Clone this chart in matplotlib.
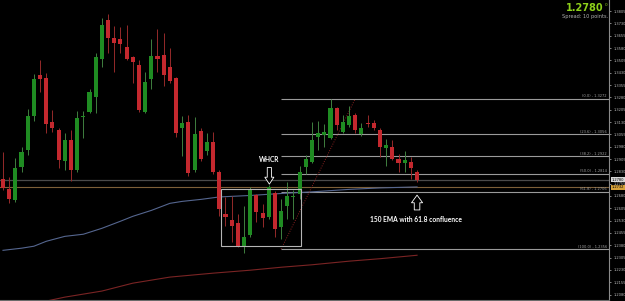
import matplotlib
matplotlib.use('Agg')
import matplotlib.pyplot as plt
from matplotlib.patches import Rectangle

# ---- data ----
opens = [1.2786, 1.2720, 1.2653, 1.2859, 1.2962, 1.3169, 1.3418, 1.3400, 1.3132, 1.3084,
         1.2890, 1.3023, 1.2835, 1.3163, 1.3193, 1.3284, 1.3515, 1.3752, 1.3642, 1.3636,
         1.3588, 1.3527, 1.3478, 1.3193, 1.3393, 1.3533, 1.3539, 1.3466, 1.3400, 1.3096,
         1.3132, 1.2835, 1.3078, 1.2956, 1.3011, 1.2823, 1.2568, 1.2532, 1.2513, 1.2374,
         1.2440, 1.2683, 1.2574, 1.2550, 1.2695, 1.2489, 1.2617, 1.2671, 1.2689, 1.2859,
         1.2884, 1.3041, 1.3054, 1.3035, 1.3217, 1.3072, 1.3114, 1.3175, 1.3060, 1.3126,
         1.3126, 1.3084, 1.2975, 1.2981, 1.2908, 1.2878, 1.2884, 1.2823]
highs = [1.2950, 1.2793, 1.2914, 1.2981, 1.3211, 1.3424, 1.3509, 1.3430, 1.3205, 1.3096,
         1.3066, 1.3084, 1.3199, 1.3199, 1.3333, 1.3551, 1.3764, 1.3788, 1.3715, 1.3709,
         1.3721, 1.3533, 1.3509, 1.3436, 1.3636, 1.3697, 1.3673, 1.3582, 1.3406, 1.3169,
         1.3175, 1.3163, 1.3096, 1.3066, 1.3072, 1.2841, 1.2671, 1.2677, 1.2568, 1.2617,
         1.2732, 1.2689, 1.2629, 1.2744, 1.2708, 1.2659, 1.2768, 1.2714, 1.2865, 1.2932,
         1.3132, 1.3139, 1.3120, 1.3272, 1.3224, 1.3175, 1.3230, 1.3187, 1.3126, 1.3175,
         1.3145, 1.3096, 1.3029, 1.3023, 1.2938, 1.2956, 1.2920, 1.2841]
lows = [1.2714, 1.2635, 1.2641, 1.2823, 1.2932, 1.3139, 1.3315, 1.3066, 1.3072, 1.2853,
        1.2835, 1.2774, 1.2823, 1.3035, 1.3187, 1.3187, 1.3466, 1.3551, 1.3436, 1.3551,
        1.3509, 1.3369, 1.3193, 1.3187, 1.3333, 1.3436, 1.3351, 1.3369, 1.3041, 1.2926,
        1.2799, 1.2823, 1.2890, 1.2932, 1.2811, 1.2556, 1.2495, 1.2398, 1.2368, 1.2330,
        1.2428, 1.2519, 1.2489, 1.2538, 1.2428, 1.2416, 1.2538, 1.2538, 1.2659, 1.2811,
        1.2878, 1.2962, 1.2981, 1.3029, 1.3084, 1.3066, 1.3102, 1.3066, 1.3047, 1.3102,
        1.3084, 1.2920, 1.2865, 1.2896, 1.2823, 1.2823, 1.2786, 1.2762]
closes = [1.2726, 1.2659, 1.2853, 1.2950, 1.3169, 1.3393, 1.3393, 1.3120, 1.3096, 1.2896,
          1.3023, 1.2841, 1.3157, 1.3169, 1.3315, 1.3527, 1.3721, 1.3642, 1.3612, 1.3606,
          1.3515, 1.3497, 1.3205, 1.3375, 1.3533, 1.3515, 1.3418, 1.3381, 1.3066, 1.3126,
          1.2817, 1.3060, 1.2908, 1.3011, 1.2823, 1.2598, 1.2550, 1.2495, 1.2374, 1.2428,
          1.2720, 1.2580, 1.2544, 1.2732, 1.2477, 1.2586, 1.2677, 1.2677, 1.2823, 1.2908,
          1.3023, 1.3066, 1.3072, 1.3217, 1.3114, 1.3132, 1.3169, 1.3084, 1.3096, 1.3120,
          1.3096, 1.2981, 1.2993, 1.2908, 1.2878, 1.2896, 1.2853, 1.2780]

ema150_idx = [0, 3, 5, 7, 10, 13, 16, 19, 21, 24, 27, 29, 32, 35, 40, 45, 50, 56, 61, 67]
ema150_val = [1.2349, 1.2362, 1.2374, 1.2404, 1.2434, 1.2447, 1.2483, 1.2526, 1.2556, 1.2592,
              1.2635, 1.2647, 1.2659, 1.2674, 1.2683, 1.2695, 1.2705, 1.2720, 1.2729, 1.2735]
ema_slow_idx = [7, 10, 16, 21, 27, 34, 40, 45, 50, 56, 61, 67]
ema_slow_val = [1.2040, 1.2064, 1.2101, 1.2149, 1.2186, 1.2210, 1.2228, 1.2246, 1.2261,
                1.2283, 1.2298, 1.2319]

fib_pcts = ["0.0", "23.6", "38.2", "50.0", "61.8", "100.0"]
fib_levels = [1.3272, 1.3056, 1.2922, 1.2814, 1.2706, 1.2356]

axis_ticks = [1.3805, 1.3730, 1.3655, 1.3580, 1.3505, 1.3430, 1.3355, 1.3280, 1.3205,
              1.3130, 1.3055, 1.2980, 1.2905, 1.2830, 1.2755, 1.2680, 1.2605, 1.2530,
              1.2455, 1.2380, 1.2305, 1.2230, 1.2155, 1.2080]

bid_price = 1.2780
hline_price = 1.2732

GREEN = '#1f8c22'
RED = '#c4282e'
GREEN_W = '#3f7f3f'
RED_W = '#952a2a'

fig = plt.figure(figsize=(6.25, 3.01), dpi=100, facecolor='black')
ax = fig.add_axes([0, 0.003, 609 / 625, 0.997])
ax.set_facecolor('black')
ax.set_xlim(-0.485, 98.06)
ax.set_ylim(1.2046, 1.3873)

# horizontal bid / user lines
ax.axhline(bid_price, color='#4a4a4a', lw=0.9, zorder=1)
ax.axhline(hline_price, color='#7d5f38', lw=0.8, zorder=1)

# EMAs
ax.plot(ema150_idx, ema150_val, color='#55668f', lw=0.8, zorder=2)
ax.plot(ema_slow_idx, ema_slow_val, color='#7a2424', lw=0.8, zorder=2)

# fib
xmax = ax.get_xlim()[1]
ax.hlines(fib_levels, 45, xmax, color='#9a9a9a', lw=0.8, zorder=1)
for p, lv in zip(fib_pcts, fib_levels):
    ax.text(97.7, lv + 0.0004, f"({p}) - {lv:.4f}", ha='right', va='bottom',
            fontsize=2.6, color='#a0a0a0')
ax.plot([45, 57], [fib_levels[-1], fib_levels[0]], color='#8a2222', lw=0.7,
        ls=(0, (1, 1.5)), zorder=2)

# candles
for i, (o, h, l, c) in enumerate(zip(opens, highs, lows, closes)):
    up = c >= o
    ax.vlines(i, l, h, color=GREEN_W if up else RED_W, lw=0.7, zorder=3)
    bot = min(o, c)
    hgt = max(abs(c - o), 0.0005)
    ax.add_patch(Rectangle((i - 0.33, bot), 0.66, hgt, fc=GREEN if up else RED,
                           ec='none', zorder=4))

# WHCR box
ax.add_patch(Rectangle((35.3, 1.2374), 12.9, 1.2720 - 1.2374, fc='none',
                       ec='#b5b5b5', lw=0.8, zorder=5))
ax.text(43.1, 1.2902, 'WHCR', color='white', fontsize=4.8, fontweight='bold',
        family='Lato', ha='center', va='center', zorder=6)
ax.annotate('', xy=(43.1, 1.2735), xytext=(43.1, 1.2870),
            arrowprops=dict(arrowstyle='simple,head_width=0.65,head_length=0.5,tail_width=0.3',
                            fc='black', ec='white', lw=0.6, mutation_scale=10), zorder=6)
ax.annotate('', xy=(67, 1.2702), xytext=(67, 1.2578),
            arrowprops=dict(arrowstyle='simple,head_width=0.8,head_length=0.55,tail_width=0.4',
                            fc='black', ec='white', lw=0.6, mutation_scale=10), zorder=6)
ax.text(66.8, 1.2538, '150 EMA with 61.8 confluence', color='white', fontsize=4.8,
        fontweight='bold', family='Lato', ha='center', va='center', zorder=6)

# axes styling
for s in ['top', 'left']:
    ax.spines[s].set_visible(False)
ax.spines['right'].set_color('#8a8a8a')
ax.spines['right'].set_linewidth(0.8)
ax.spines['bottom'].set_color('#6a6a6a')
ax.spines['bottom'].set_linewidth(0.8)
ax.set_xticks([])
ax.yaxis.tick_right()
ax.set_yticks(axis_ticks)
ax.set_yticklabels([f"{t:.4f}" for t in axis_ticks])
ax.tick_params(axis='y', labelsize=2.6, colors='#b8b8b8', length=1.5, width=0.5, pad=1.5)

# price boxes on axis
tr = ax.get_yaxis_transform()
ax.text(1.004, bid_price, f"{bid_price:.4f}", transform=tr, fontsize=2.6, color='black',
        ha='left', va='center', clip_on=False,
        bbox=dict(boxstyle='square,pad=0.25', fc='#d8d8d8', ec='none'))
ax.text(1.004, hline_price, f"{hline_price:.4f}", transform=tr, fontsize=2.6, color='black',
        ha='left', va='center', clip_on=False,
        bbox=dict(boxstyle='square,pad=0.25', fc='#d6a13a', ec='none'))

# top right quote
fig.text(0.965, 0.972, '1.2780', color='#8ed11a', fontsize=7, fontweight='bold',
         ha='right', va='center')
fig.text(0.968, 0.985, '0', color='#8ed11a', fontsize=3, ha='left', va='center')
fig.text(0.973, 0.945, 'Spread: 10 points.', color='#b0b0b0', fontsize=3.6,
         ha='right', va='center')

fig.savefig('out.png', dpi=100, facecolor='black')
